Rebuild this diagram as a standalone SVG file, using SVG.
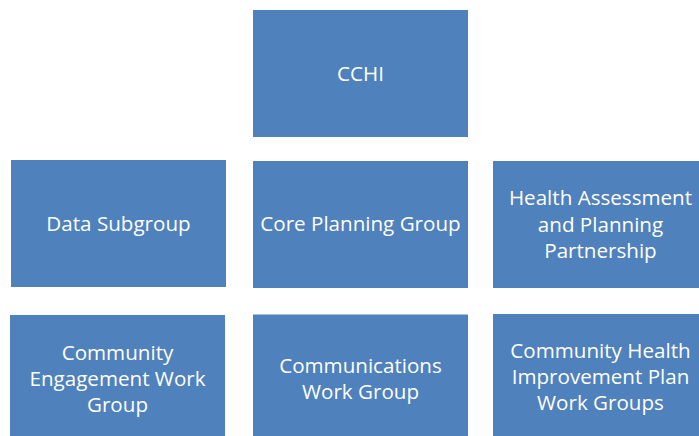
<svg xmlns="http://www.w3.org/2000/svg" width="699" height="436" viewBox="0 0 699 436">
  <style>
    .box { fill: #4F81BD; }
    .lbl { fill: #ffffff; font-family: "Open Sans", "Noto Sans", "Liberation Sans", sans-serif; font-size: 20.6px; text-anchor: middle; }
  </style>
  <rect width="699" height="436" fill="#ffffff"/>
  <g id="cchi">
    <rect class="box" x="253" y="10" width="215" height="127"/>
    <text class="lbl" x="360.5" y="80.5">CCHI</text>
  </g>
  <g id="data-subgroup">
    <rect class="box" x="11" y="160" width="215" height="127"/>
    <text class="lbl" x="118.5" y="231">Data Subgroup</text>
  </g>
  <g id="core-planning-group">
    <rect class="box" x="253" y="161" width="215" height="127"/>
    <text class="lbl" x="360.5" y="231">Core Planning Group</text>
  </g>
  <g id="health-assessment">
    <rect class="box" x="493" y="161" width="206" height="127"/>
    <text class="lbl" x="600.5" y="205">Health Assessment</text>
    <text class="lbl" x="600.5" y="231.5">and Planning</text>
    <text class="lbl" x="600.5" y="257.5">Partnership</text>
  </g>
  <g id="community-engagement">
    <rect class="box" x="10" y="315" width="215" height="121"/>
    <text class="lbl" x="117.5" y="359.5">Community</text>
    <text class="lbl" x="117.5" y="386">Engagement Work</text>
    <text class="lbl" x="117.5" y="412">Group</text>
  </g>
  <g id="communications">
    <rect class="box" x="253" y="314.5" width="215" height="121.5"/>
    <text class="lbl" x="360.5" y="372.5">Communications</text>
    <text class="lbl" x="360.5" y="398.5">Work Group</text>
  </g>
  <g id="chip-work-groups">
    <rect class="box" x="493" y="314" width="206" height="122"/>
    <text class="lbl" x="600.5" y="357.5">Community Health</text>
    <text class="lbl" x="600.5" y="383.5">Improvement Plan</text>
    <text class="lbl" x="600.5" y="410">Work Groups</text>
  </g>
  <g id="connectors"/>
</svg>
